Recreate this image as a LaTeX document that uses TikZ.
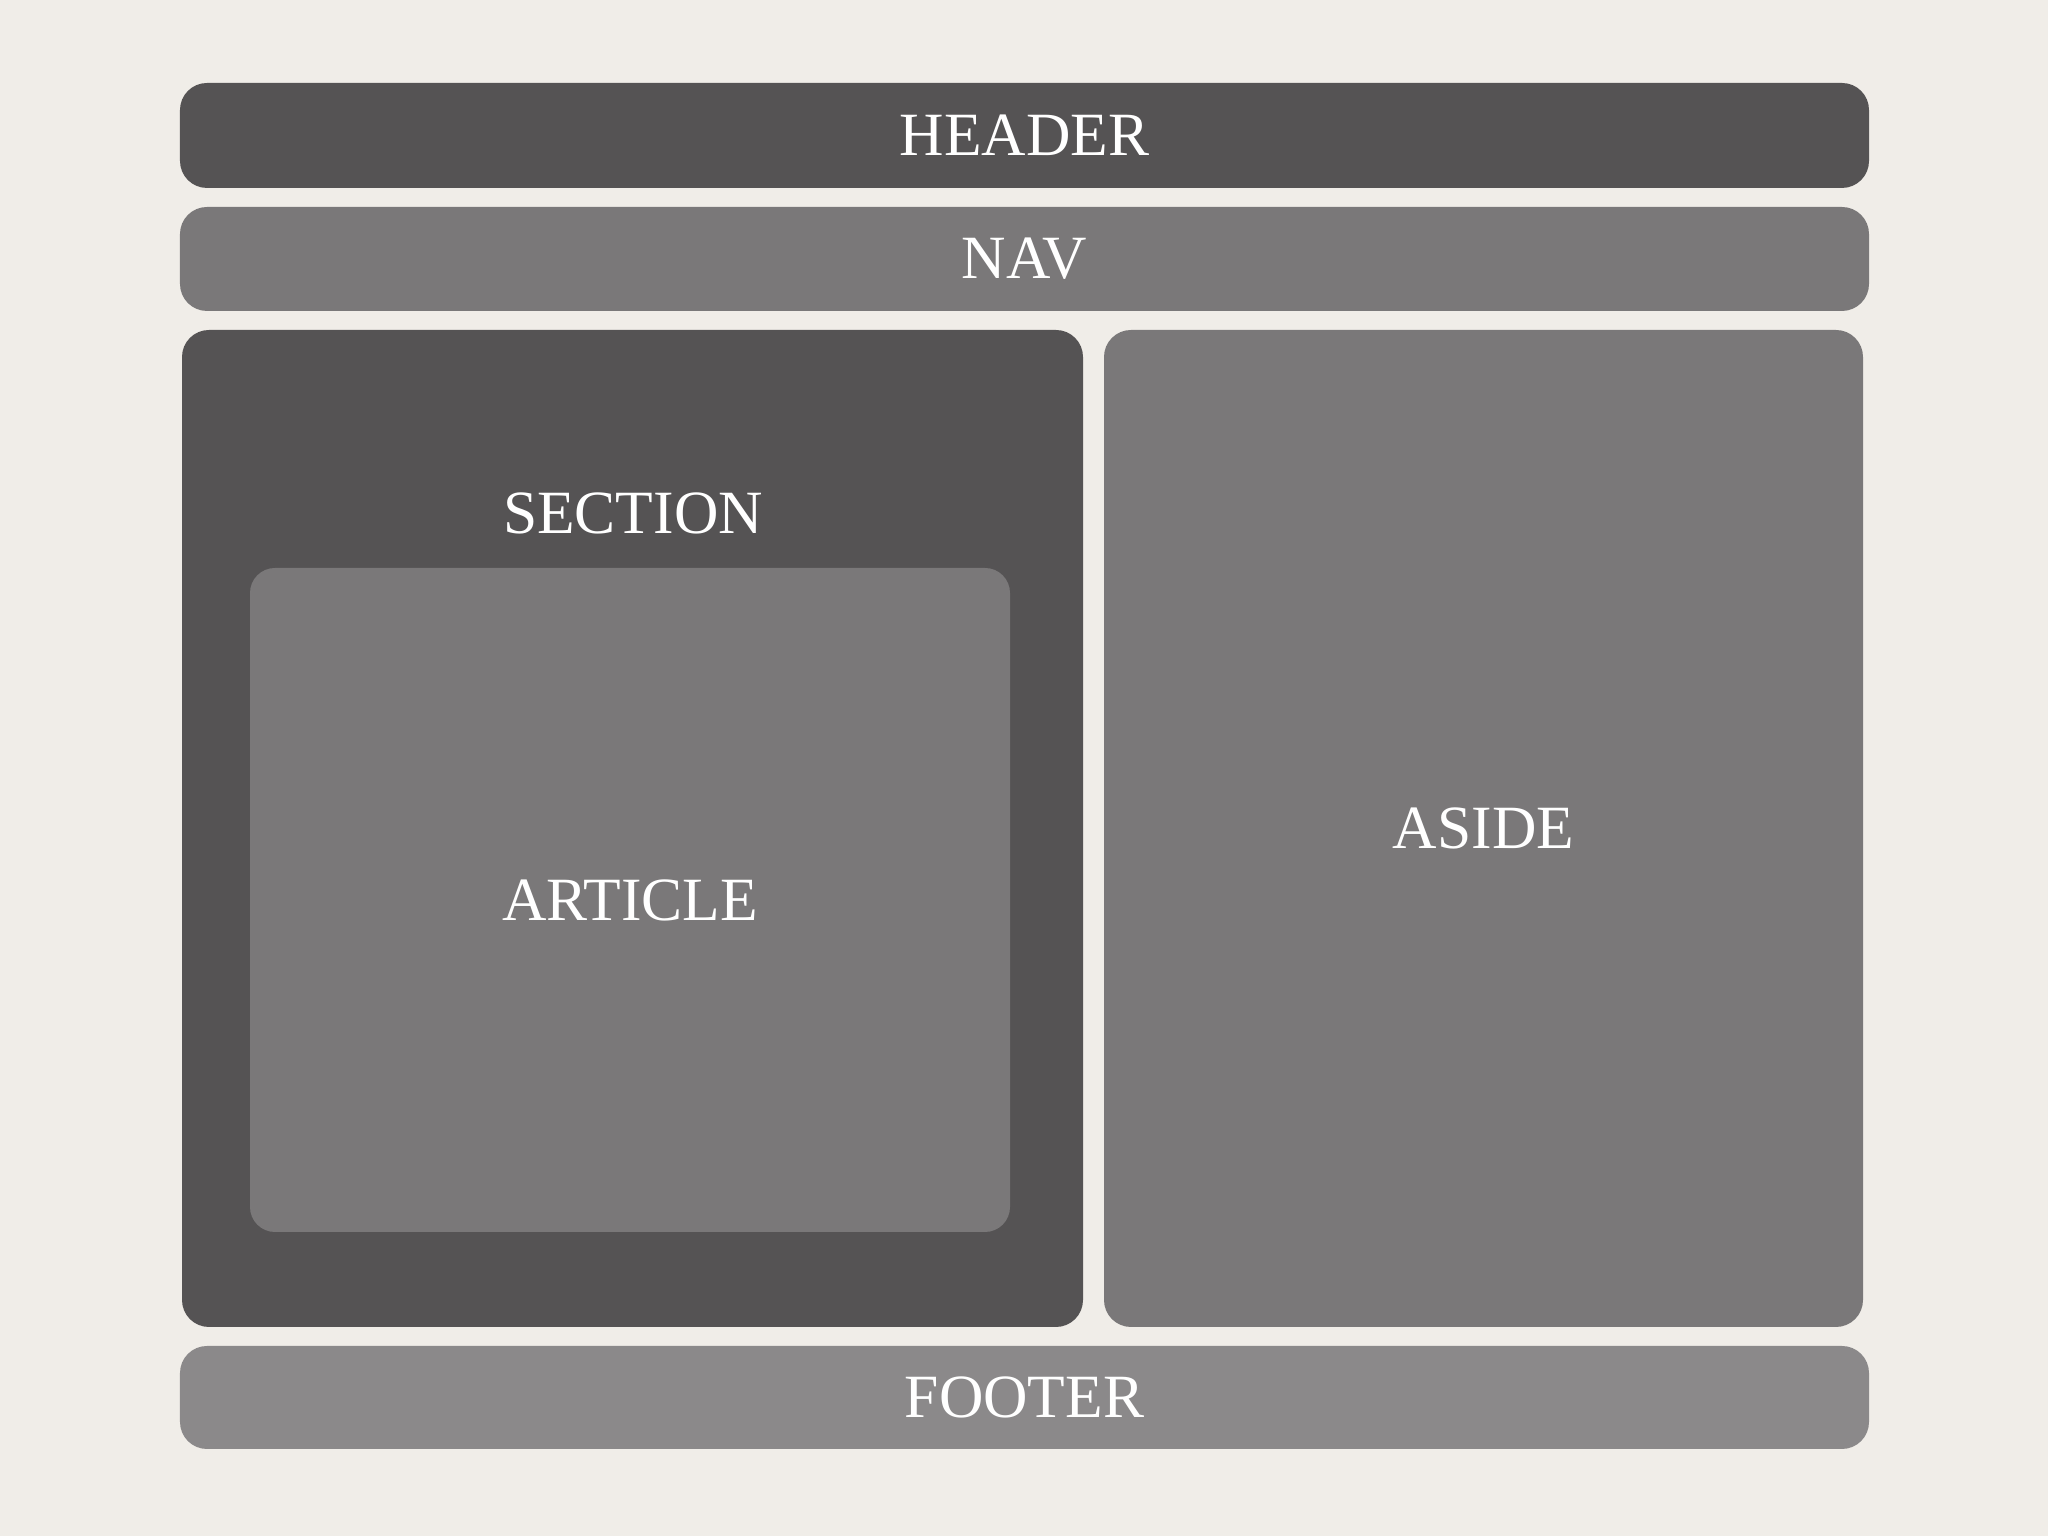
\documentclass[tikz,border=0pt]{standalone}
\usepackage{fontspec}
\setmainfont{Liberation Serif}
\definecolor{pagebg}{RGB}{240, 237, 232}
\definecolor{darkbox}{RGB}{85, 83, 84}
\definecolor{midbox}{RGB}{122, 120, 121}
\definecolor{lightbox}{RGB}{139, 137, 138}
\tikzset{
  layoutbox/.style={rectangle, rounded corners=0.27cm, inner sep=0pt, outer sep=0pt,
    text=white, font=\fontsize{17.5}{21}\selectfont}
}
\begin{document}
\begin{tikzpicture}
                    \fill[pagebg] (0,0) rectangle (20.48,15.36);
                    \useasboundingbox (0,0) rectangle (20.48,15.36);
                    \node[layoutbox, fill=darkbox, minimum width=16.89cm, minimum height=1.05cm] (header) at (10.245,14.005) {HEADER};
                    \node[layoutbox, fill=midbox, minimum width=16.89cm, minimum height=1.04cm] (nav) at (10.245,12.77) {NAV};
                    \node[layoutbox, fill=darkbox, minimum width=9.01cm, minimum height=9.97cm] (section) at (6.325,7.075) {};
                    \node[layoutbox, anchor=base] (sectionlabel) at (6.33,10.02) {SECTION};
                    \node[layoutbox, fill=midbox, rounded corners=0.25cm, minimum width=7.60cm, minimum height=6.64cm] (article) at (6.30,6.36) {ARTICLE};
                    \node[layoutbox, fill=midbox, minimum width=7.59cm, minimum height=9.97cm] (aside) at (14.835,7.075) {ASIDE};
                    \node[layoutbox, fill=lightbox, minimum width=16.89cm, minimum height=1.03cm] (footer) at (10.245,1.385) {FOOTER};
                \end{tikzpicture}
\end{document}
